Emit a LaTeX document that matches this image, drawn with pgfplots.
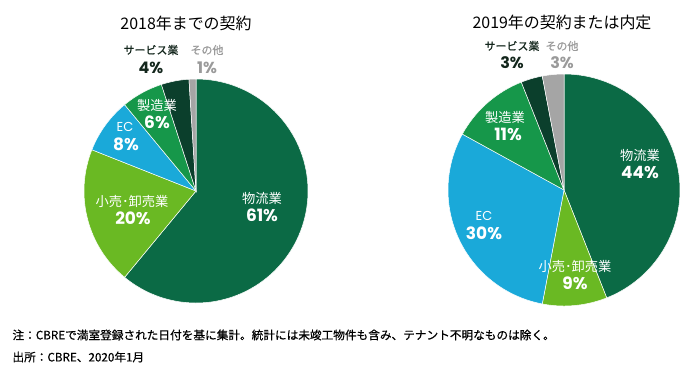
\documentclass[border=0pt]{standalone}
\usepackage{pgfplots}
\pgfplotsset{compat=1.18}
\usepackage{fontspec}
\setmainfont{Noto Sans CJK JP}
\newfontfamily\numfont{Poppins}
\newfontfamily\notefont[FakeBold=0.6]{Noto Sans CJK JP}
\definecolor{cLog}{HTML}{0B6A45}
\definecolor{cSrv}{HTML}{0B3F2C}
\definecolor{cMfg}{HTML}{16974A}
\definecolor{cEC}{HTML}{1AA9D9}
\definecolor{cRet}{HTML}{6AB923}
\definecolor{cOth}{HTML}{A5A5A5}
\definecolor{cSrvTxt}{HTML}{13261C}
\definecolor{cOthTxt}{HTML}{9A9A9A}
% slice: cx, cy, r, cumulative %, share %, colour
\newcommand\slice[6]{%
  \pgfmathsetmacro\ta{90-3.6*(#4+#5)}%
  \pgfmathsetmacro\tb{90-3.6*#4}%
  \edef\temp{\noexpand\addplot[fill=#6, draw=white, line width=0.5pt, domain=\ta:\tb, samples=90, variable=\noexpand\t, forget plot]
    ({#1+#3*cos(\noexpand\t)},{#2-#3*sin(\noexpand\t)}) -- (axis cs:#1,#2) -- cycle;}%
  \temp}
\begin{document}
\begin{tikzpicture}
\begin{axis}[
  x=1bp, y=1bp, xmin=0, xmax=700, ymin=0, ymax=371, y dir=reverse,
  hide axis, scale only axis, clip=false]
\addplot[draw=none, forget plot] coordinates {(0,0) (700,371)};
% 2018 pie
\slice{196}{191}{112}{0}{61}{cLog}
\slice{196}{191}{112}{61}{20}{cRet}
\slice{196}{191}{112}{81}{8}{cEC}
\slice{196}{191}{112}{89}{6}{cMfg}
\slice{196}{191}{112}{95}{4}{cSrv}
\slice{196}{191}{112}{99}{1}{cOth}
% 2019 pie
\slice{564}{190}{116}{0}{44}{cLog}
\slice{564}{190}{116}{44}{9}{cRet}
\slice{564}{190}{116}{53}{30}{cEC}
\slice{564}{190}{116}{83}{11}{cMfg}
\slice{564}{190}{116}{94}{3}{cSrv}
\slice{564}{190}{116}{97}{3}{cOth}
% titles
\node[font=\fontsize{16}{18}\selectfont] at (axis cs:186,23) {2018年までの契約};
\node[font=\fontsize{16}{18}\selectfont] at (axis cs:562,22) {2019年の契約または内定};
\tikzset{lab/.style={font=\fontsize{13.3}{15}\selectfont, white},
         pct/.style={font=\numfont\bfseries\fontsize{17}{19}\selectfont, white},
         olab/.style={font=\notefont\fontsize{11}{13}\selectfont},
         opct/.style={font=\numfont\bfseries\fontsize{16}{18}\selectfont}}
% labels left
\node[lab] at (axis cs:262,198) {物流業};
\node[pct] at (axis cs:262,215) {61\%};
\node[lab] at (axis cs:132,201) {小売･卸売業};
\node[pct] at (axis cs:133,218) {20\%};
\node[lab,font=\numfont\fontsize{13}{15}\selectfont] at (axis cs:125,127) {EC};
\node[pct] at (axis cs:126,144) {8\%};
\node[lab] at (axis cs:157,105) {製造業};
\node[pct] at (axis cs:157,122) {6\%};
\node[olab,text=cSrvTxt] at (axis cs:151,50) {サービス業};
\node[opct,text=cSrvTxt] at (axis cs:151,68) {4\%};
\node[olab,text=cOthTxt] at (axis cs:207,50) {その他};
\node[opct,text=cOthTxt] at (axis cs:207,68) {1\%};
% labels right
\node[lab] at (axis cs:640,155) {物流業};
\node[pct] at (axis cs:640,172) {44\%};
\node[lab] at (axis cs:575,266) {小売･卸売業};
\node[pct] at (axis cs:575,283) {9\%};
\node[lab,font=\numfont\fontsize{13}{15}\selectfont] at (axis cs:484,216) {EC};
\node[pct] at (axis cs:484,233) {30\%};
\node[lab] at (axis cs:505,117) {製造業};
\node[pct] at (axis cs:508,134) {11\%};
\node[olab,text=cSrvTxt] at (axis cs:512,46) {サービス業};
\node[opct,text=cSrvTxt] at (axis cs:512,63) {3\%};
\node[olab,text=cOthTxt] at (axis cs:562,46) {その他};
\node[opct,text=cOthTxt] at (axis cs:562,63) {3\%};
% footnotes
\node[anchor=west, font=\notefont\fontsize{11.7}{13}\selectfont] at (axis cs:9,335) {注：CBREで満室登録された日付を基に集計。統計には未竣工物件も含み、テナント不明なものは除く。};
\node[anchor=west, font=\notefont\fontsize{11.7}{13}\selectfont] at (axis cs:9,357) {出所：CBRE、2020年1月};
\end{axis}
\end{tikzpicture}
\end{document}
